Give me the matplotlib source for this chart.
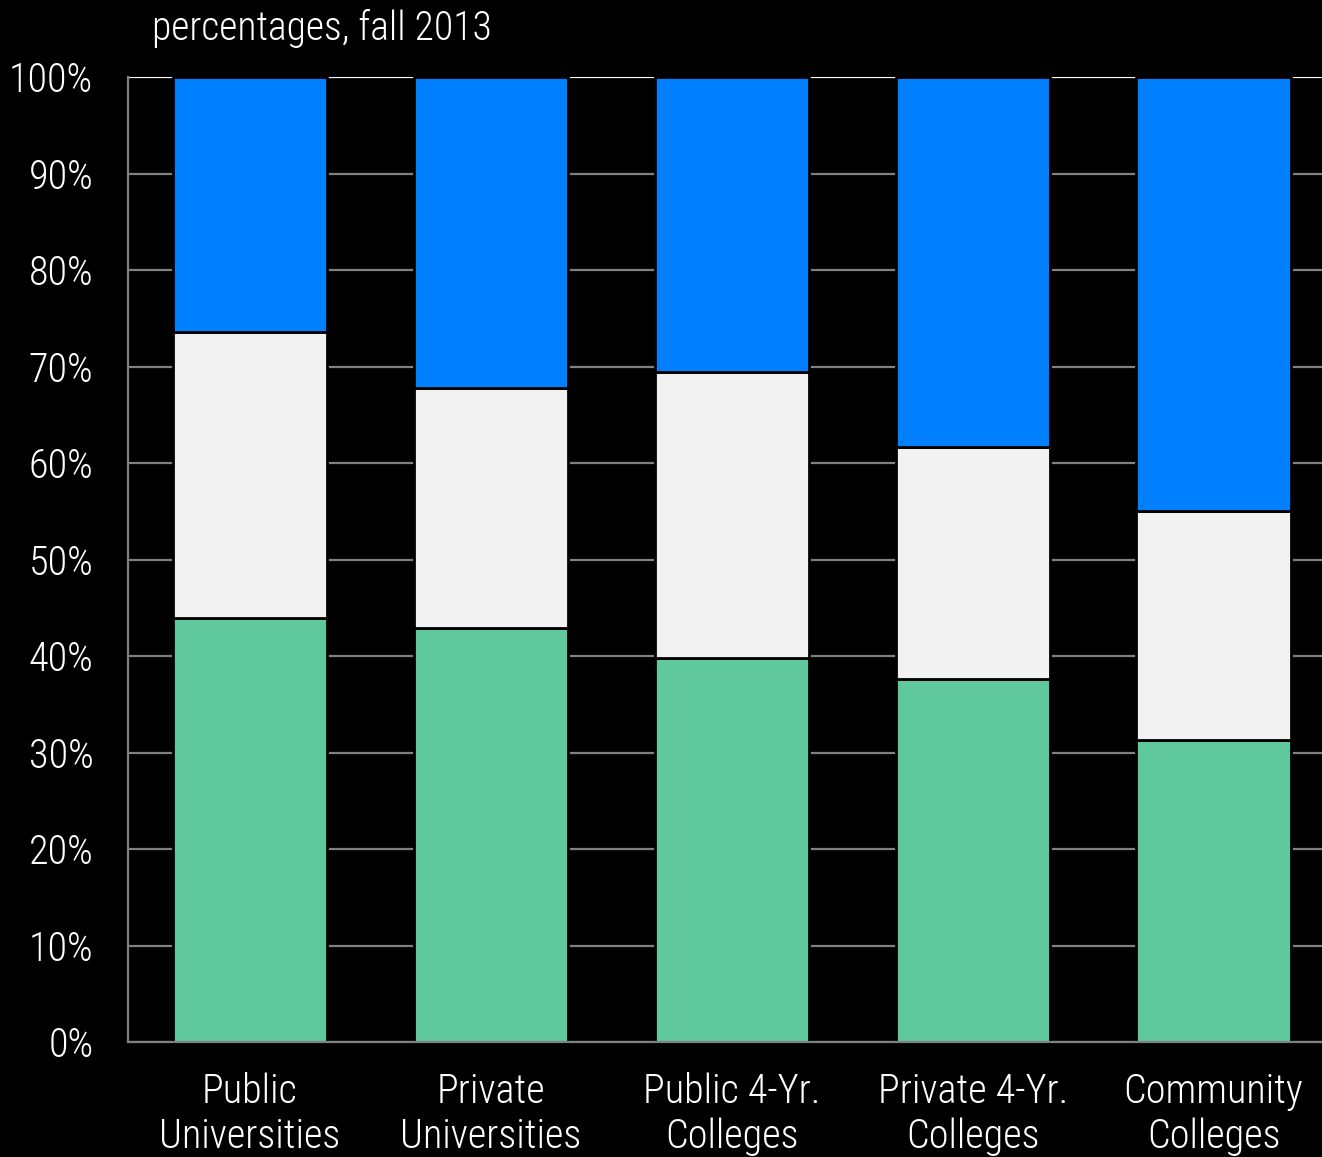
import numpy as np
import matplotlib.pyplot as plt

categories = ["Public\nUniversities", "Private\nUniversities", "Public 4-Yr.\nColleges",
              "Private 4-Yr.\nColleges", "Community\nColleges"]
green_vals = [43.9, 42.9, 39.8, 37.6, 31.3]
grey_vals = [29.7, 24.9, 29.6, 24.1, 23.7]
blue_vals = [26.4, 32.2, 30.6, 38.3, 45.0]
yticks = [0, 10, 20, 30, 40, 50, 60, 70, 80, 90, 100]

plt.rcParams['font.family'] = ['Roboto Condensed', 'DejaVu Sans']
plt.rcParams['font.weight'] = 'light'

fig = plt.figure(figsize=(13.22, 11.57), dpi=100, facecolor='black')
# axes spills a bit past the right edge, as in the original
ax = fig.add_axes([128 / 1322, 1 - 1042 / 1157, 1206 / 1322, 965 / 1157])
ax.set_facecolor('black')

x = np.arange(len(categories))
green = np.array(green_vals)
grey = np.array(grey_vals)
blue = np.array(blue_vals)

for t in yticks:
    col = 'white' if t == 100 else '#808080'
    ax.axhline(t, color=col, lw=1.6, zorder=0)

w = 0.64
ax.bar(x, green, w, color='#5FC89C', edgecolor='black', lw=2, zorder=2)
ax.bar(x, grey, w, bottom=green, color='#F2F2F2', edgecolor='black', lw=2, zorder=2)
ax.bar(x, blue, w, bottom=green + grey, color='#007FFF', edgecolor='black', lw=2, zorder=2)

ax.set_xlim(-0.506, 4.5)
ax.set_ylim(0, 100)
ax.set_yticks(yticks)
ax.set_yticklabels([f"{t}%" for t in yticks])
ax.set_xticks(x)
ax.set_xticklabels(categories, linespacing=1.2)
ax.tick_params(axis='both', length=0, colors='white', labelsize=29)
ax.tick_params(axis='y', pad=25)
ax.tick_params(axis='x', pad=22)

for s in ['top', 'right']:
    ax.spines[s].set_visible(False)
for s in ['left', 'bottom']:
    ax.spines[s].set_color('#808080')
    ax.spines[s].set_linewidth(1.6)
    ax.spines[s].set_zorder(3)

fig.text(152 / 1322, 1 - 40 / 1157, "percentages, fall 2013", color='white', fontsize=28.5,
         ha='left', va='baseline')

fig.savefig('out.png', dpi=100, facecolor='black')
